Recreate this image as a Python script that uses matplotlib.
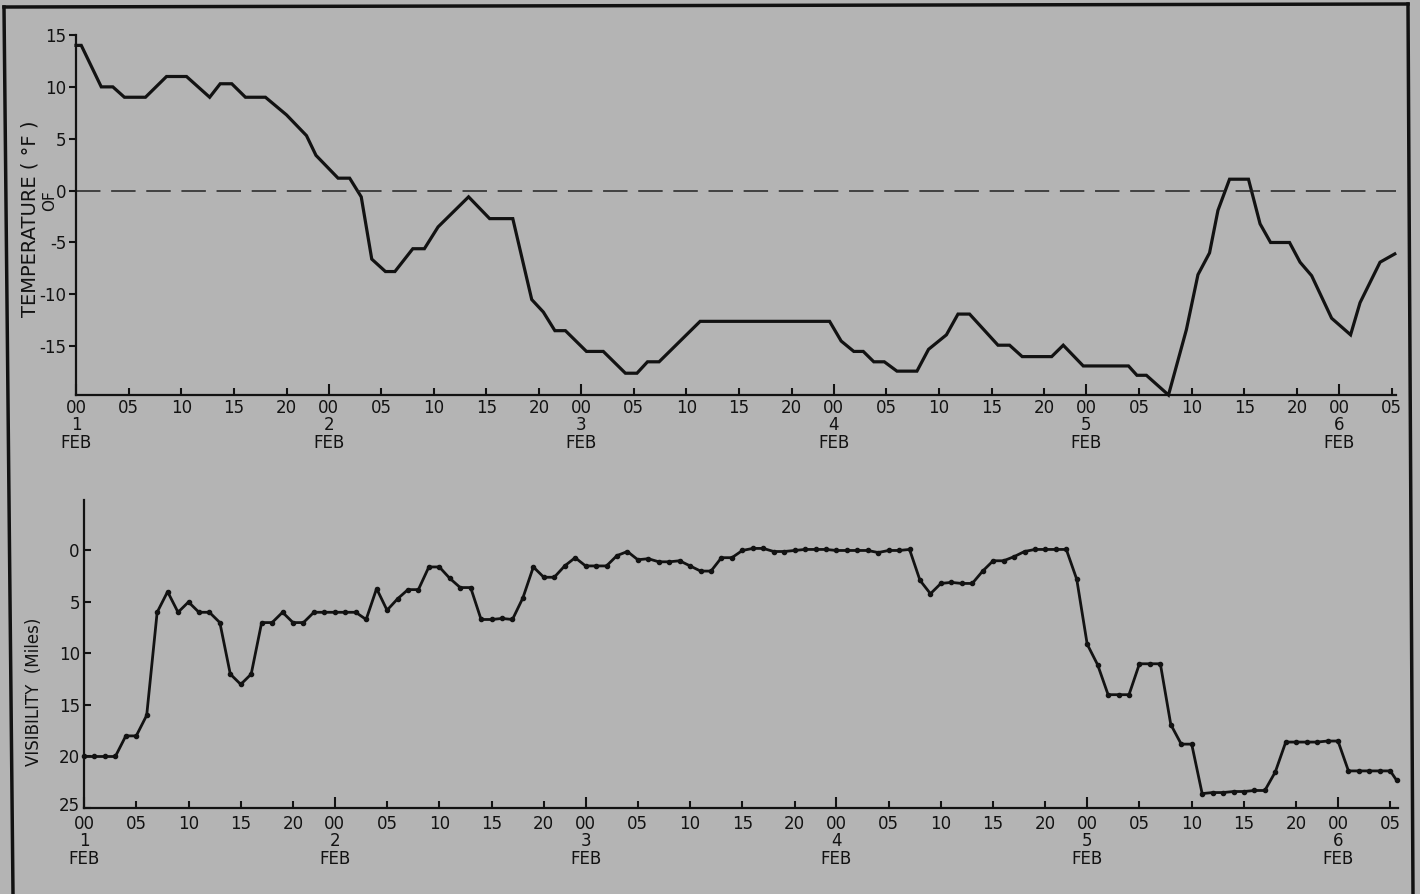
import matplotlib
matplotlib.use("Agg")
import matplotlib.pyplot as plt
import matplotlib.transforms as mtransforms
from matplotlib.lines import Line2D

# temperature trace (hour from 00Z 1 FEB, deg F)
temp_hours = [0, 0.5, 2.4, 3.5, 4.6, 6.6, 8.6, 10.5, 12.7, 13.7, 14.8, 16.1, 18.0, 20.0,
              21.9, 22.8, 24.9, 26.0, 27.1, 28.1, 29.4, 30.3, 32.0, 33.1, 34.4, 37.3,
              39.3, 41.5, 43.3, 44.4, 45.5, 46.5, 48.5, 50.1, 52.2, 53.3, 54.3, 55.4,
              59.3, 71.6, 72.7, 73.9, 74.8, 75.8, 76.8, 78.0, 79.9, 81.0, 82.7, 83.8,
              84.9, 87.6, 88.7, 89.9, 92.7, 93.8, 95.7, 100.0, 100.8, 101.7, 103.8,
              105.5, 106.6, 107.7, 108.5, 109.6, 111.4, 112.5, 113.5, 115.3, 116.3,
              117.4, 119.3, 121.1, 122.0, 123.9, 125.3]
temps = [14, 14, 10, 10, 9, 9, 11, 11, 9, 10.3, 10.3, 9, 9, 7.3,
         5.3, 3.4, 1.2, 1.2, -0.6, -6.6, -7.8, -7.8, -5.6, -5.6, -3.5, -0.6,
         -2.7, -2.7, -10.5, -11.7, -13.5, -13.5, -15.5, -15.5, -17.6, -17.6, -16.5, -16.5,
         -12.6, -12.6, -14.5, -15.5, -15.5, -16.5, -16.5, -17.4, -17.4, -15.3, -13.9, -11.9,
         -11.9, -14.9, -14.9, -16.0, -16.0, -14.9, -16.9, -16.9, -17.8, -17.8, -19.7,
         -13.4, -8.1, -6.0, -1.9, 1.1, 1.1, -3.2, -5.0, -5.0, -6.9,
         -8.2, -12.3, -13.9, -10.8, -6.9, -6.1]

# hourly visibility (miles)
vis = [20, 20, 20, 20, 18, 18, 16, 6, 4, 6,
       5, 6, 6, 7, 12, 13, 12, 7, 7, 6,
       7, 7, 6, 6, 6, 6, 6, 6.7, 3.7, 5.8,
       4.7, 3.8, 3.8, 1.6, 1.6, 2.7, 3.6, 3.6, 6.7, 6.7,
       6.6, 6.7, 4.6, 1.6, 2.6, 2.6, 1.5, 0.7, 1.5, 1.5,
       1.5, 0.5, 0.1, 0.9, 0.8, 1.1, 1.1, 1.0, 1.5, 2.0,
       2.0, 0.7, 0.7, 0.0, -0.2, -0.2, 0.1, 0.1, 0, -0.1,
       -0.1, -0.1, 0, 0, 0, 0, 0.2, 0, 0, -0.1,
       2.9, 4.2, 3.2, 3.1, 3.2, 3.2, 2.0, 1.0, 1.0, 0.6,
       0.1, -0.1, -0.1, -0.1, -0.1, 2.8, 9.1, 11.1, 14, 14,
       14, 11, 11, 11, 16.9, 18.8, 18.8, 23.6, 23.5, 23.5,
       23.4, 23.4, 23.3, 23.3, 21.5, 18.6, 18.6, 18.6, 18.6, 18.5,
       18.5, 21.4, 21.4, 21.4, 21.4, 21.4,
       22.3]
vis_hours = list(range(126)) + [125.6]

days = ["1", "2", "3", "4", "5", "6"]
hour_marks = ["05", "10", "15", "20"]
temp_ticks = [-15, -10, -5, 0, 5, 10, 15]
vis_ticks = [0, 5, 10, 15, 20, 25]

BG = "#b4b4b4"
INK = "#121212"
W, H = 1420, 894

plt.rcParams["font.family"] = ["DejaVu Sans"]
plt.rcParams["axes.unicode_minus"] = False
plt.rcParams["text.color"] = INK

fig = plt.figure(figsize=(14.2, 8.94), dpi=100, facecolor=BG)


def px_axes(left, right, top, bottom):
    a = fig.add_axes([left / W, 1 - bottom / H, (right - left) / W, (bottom - top) / H])
    a.set_facecolor("none")
    return a


def time_axis(ax, xmax, pad):
    day_pos = [24 * i for i in range(len(days))]
    day_lab = ["00\n%s\nFEB" % d for d in days]
    minor_pos, minor_lab = [], []
    for i in range(len(days)):
        for m in hour_marks:
            if 24 * i + int(m) <= xmax:
                minor_pos.append(24 * i + int(m))
                minor_lab.append(m)
    ax.set_xticks(day_pos, labels=day_lab)
    ax.set_xticks(minor_pos, labels=minor_lab, minor=True)
    ax.tick_params(axis="x", which="major", direction="in", length=8, width=1.5,
                   pad=pad, labelsize=12, colors=INK)
    ax.tick_params(axis="x", which="minor", direction="in", length=5, width=1.5,
                   pad=pad, labelsize=12, colors=INK)
    for lbl in ax.get_xticklabels():
        lbl.set_linespacing(0.95)
    ax.set_xlim(0, xmax)
    for s in ["top", "right"]:
        ax.spines[s].set_visible(False)
    for s in ["left", "bottom"]:
        ax.spines[s].set_linewidth(1.6)
        ax.spines[s].set_color(INK)


# temperature panel
ax1 = px_axes(76, 76 + 125.4 * 10.525, 35, 395)
ax1.plot(temp_hours, temps, color=INK, lw=2.3, solid_joinstyle="miter", clip_on=False)
ax1.axhline(0, color="#222222", lw=1.1, dashes=(16, 7))
ax1.set_ylim(-19.7, 15)
ax1.set_yticks(temp_ticks)
ax1.tick_params(axis="y", direction="out", length=5, width=1.5, pad=2, labelsize=12, colors=INK)
time_axis(ax1, 125.4, 3)
ax1.set_ylabel("TEMPERATURE ( °F )", fontsize=14, color=INK)
ax1.yaxis.set_label_coords(-0.028, 0.49)
fig.text(50 / W, 1 - 201 / H, "OF", rotation=90, fontsize=11, ha="center", va="center")

# visibility panel
ax2 = px_axes(84, 84 + 125.7 * 10.45, 500, 808)
ax2.plot(vis_hours, vis, color=INK, lw=2.0, marker="o", markersize=3, clip_on=False)
ax2.set_ylim(25, -4.9)
ax2.set_yticks(vis_ticks)
ax2.tick_params(axis="y", direction="in", length=5, width=1.5, pad=3, labelsize=12, colors=INK)
time_axis(ax2, 125.7, 5)
ax2.set_ylabel("VISIBILITY  (Miles)", fontsize=12, color=INK)
ax2.yaxis.set_label_coords(-0.031, 0.377)

# lift the "25" a little so it clears the "00" below it
lbl25 = ax2.get_yticklabels()[-1]
lbl25.set_transform(lbl25.get_transform()
                    + mtransforms.ScaledTranslation(0, 3 / 72, fig.dpi_scale_trans))

# frame of the original sheet
for xs, ys in [([4, 13], [7, 894]), ([4, 1408], [7, 4]), ([1408, 1413], [4, 894])]:
    fig.add_artist(Line2D([x / W for x in xs], [1 - y / H for y in ys],
                          transform=fig.transFigure, lw=2.5, color=INK))

fig.savefig("out.png", dpi=100, facecolor=BG)
